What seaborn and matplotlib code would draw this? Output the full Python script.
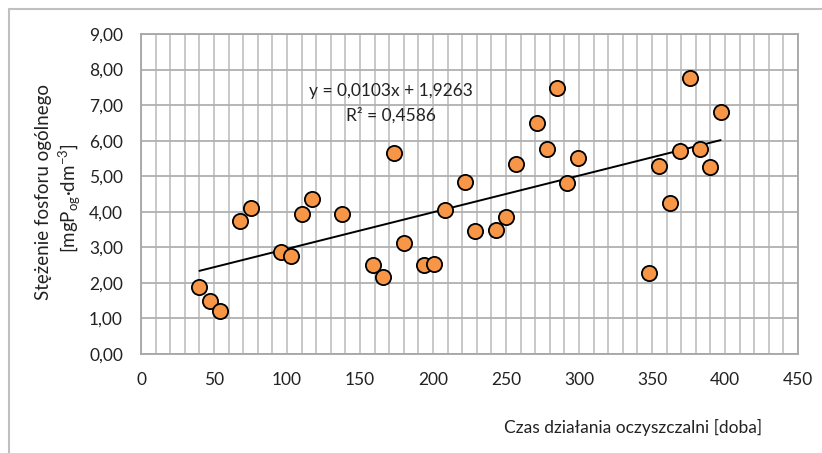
import numpy as np
import pandas as pd
import matplotlib
matplotlib.use("Agg")
import matplotlib.pyplot as plt
from matplotlib.ticker import MultipleLocator, FuncFormatter
from matplotlib.lines import Line2D
import seaborn as sns

# days of operation vs total phosphorus
days = [40, 47, 54, 68, 75, 96, 103, 110, 117, 138, 159, 166, 173, 180, 194,
        201, 208, 222, 229, 243, 250, 257, 271, 278, 285, 292, 299, 348, 355,
        362, 369, 376, 383, 390, 397]
phosphorus = [1.88, 1.48, 1.20, 3.74, 4.11, 2.86, 2.75, 3.94, 4.36, 3.94, 2.50,
              2.16, 5.66, 3.12, 2.50, 2.53, 4.05, 4.84, 3.46, 3.48, 3.85, 5.35,
              6.50, 5.77, 7.49, 4.81, 5.52, 2.27, 5.29, 4.25, 5.71, 7.77, 5.77,
              5.26, 6.81]

# trend line from the chart
slope = 0.0103
intercept = 1.9263
r2 = 0.4586

df = pd.DataFrame({"days": days, "P": phosphorus})

sns.set_style("white")
plt.rcParams['font.family'] = ['Lato', 'DejaVu Sans']
plt.rcParams['mathtext.fontset'] = 'custom'
plt.rcParams['mathtext.rm'] = 'Lato'
plt.rcParams['mathtext.it'] = 'Lato:italic'

fig = plt.figure(figsize=(8.22, 4.53), dpi=100)
ax = fig.add_axes([141 / 822, 1 - 354 / 453, (798 - 141) / 822, (354 - 34) / 453])

grid_col = "#c4c4c4"
ax.xaxis.set_minor_locator(MultipleLocator(10))
ax.xaxis.set_major_locator(MultipleLocator(50))
ax.yaxis.set_major_locator(MultipleLocator(1))
ax.grid(True, which="both", axis="x", color=grid_col, linewidth=1.3)
ax.grid(True, which="major", axis="y", color="#b0b0b0", linewidth=1.3)
ax.set_axisbelow(True)

# trend line
xs = np.array([min(days), max(days)])
ax.plot(xs, slope * xs + intercept, color="black", linewidth=1.4, zorder=2)

sns.scatterplot(data=df, x="days", y="P", ax=ax, s=120, color="#F79646",
                edgecolor="black", linewidth=1.3, zorder=3, legend=False)

ax.set_xlim(0, 450)
ax.set_ylim(0, 9)
ax.yaxis.set_major_formatter(FuncFormatter(lambda v, p: f"{v:.2f}".replace(".", ",")))

for s in ax.spines.values():
    s.set_color("#a6a6a6")
    s.set_linewidth(1.3)

ax.tick_params(axis="both", which="major", direction="out", length=5, width=1.2,
               color="#8c8c8c", labelsize=12.5, labelcolor="#222222")
ax.tick_params(axis="x", which="minor", length=0)
ax.tick_params(axis="x", which="major", pad=8)
ax.tick_params(axis="y", which="major", pad=8)

ax.set_xlabel("")
ax.set_ylabel("")

ax.text(171, 7.05, f"y = {slope:.4f}x + {intercept:.4f}".replace(".", ",")
        + "\n" + f"R² = {r2:.4f}".replace(".", ","),
        ha="center", va="center", fontsize=12.5, color="#222222", linespacing=1.55)

fig.text(44 / 822, 1 - 192 / 453, "Stężenie fosforu ogólnego", rotation=90,
         ha="center", va="center", fontsize=13.5, color="#222222")
fig.text(70 / 822, 1 - 198 / 453, r"[mgP$_{\mathrm{og}}$·dm$^{-3}$]", rotation=90,
         ha="center", va="center", fontsize=13.5, color="#222222")
fig.text(633 / 822, 1 - 427 / 453, "Czas działania oczyszczalni [doba]",
         ha="center", va="center", fontsize=12.5, color="#222222")

# outer chart border (top and left visible)
fig.add_artist(Line2D([9 / 822, 1.0], [1 - 9 / 453, 1 - 9 / 453],
                      transform=fig.transFigure, color="#c0c0c0", linewidth=1.5))
fig.add_artist(Line2D([9 / 822, 9 / 822], [0.0, 1 - 9 / 453],
                      transform=fig.transFigure, color="#c0c0c0", linewidth=1.5))

fig.savefig("out.png", dpi=100)
